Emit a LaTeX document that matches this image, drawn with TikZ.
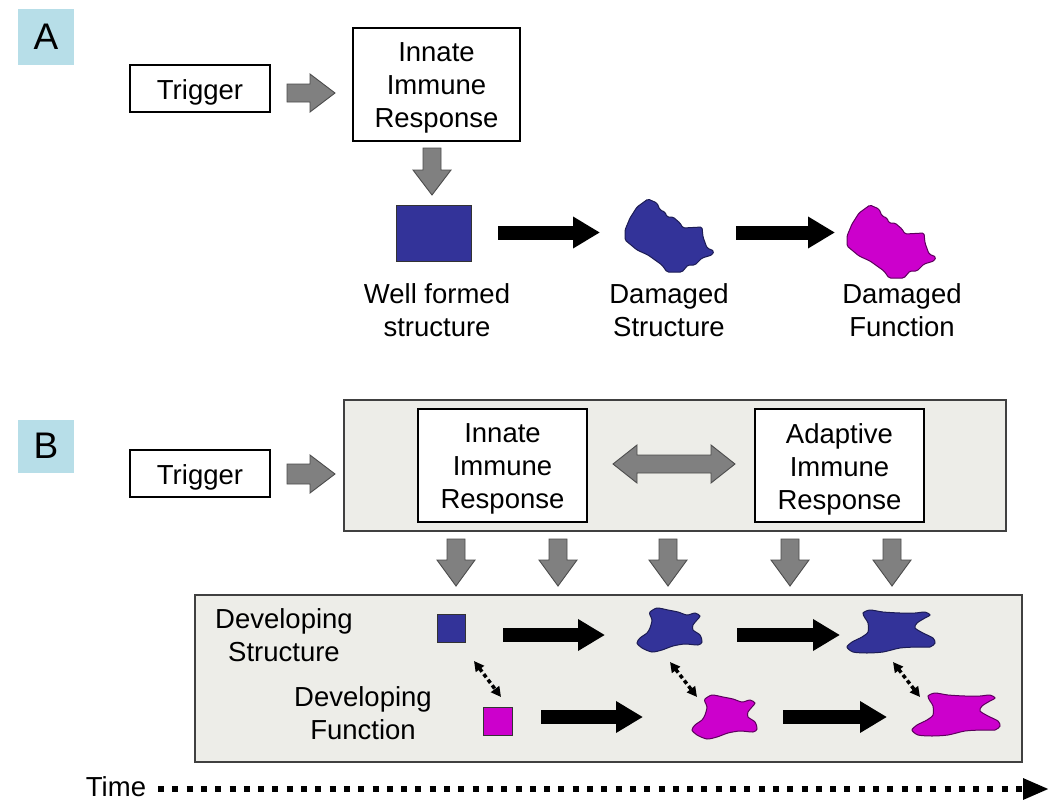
\documentclass[tikz,border=0pt]{standalone}
\usepackage{fontspec}
\setmainfont{Liberation Sans}
\usetikzlibrary{arrows.meta}
\definecolor{lblue}{HTML}{B7DEE8}
\definecolor{panel}{HTML}{EDEDE8}
\definecolor{sblue}{HTML}{333399}
\definecolor{smag}{HTML}{CC00CC}
\definecolor{agray}{HTML}{808080}
\begin{document}
\begin{tikzpicture}[x=1pt,y=-1pt,
 txt/.style={font=\fontsize{27.5}{33}\selectfont, align=center, inner sep=0pt},
 box/.style={draw=black, line width=1.2pt, fill=white, inner sep=0pt},
 boxtxt/.style={txt, yshift=-3.5pt},
 panelbox/.style={draw=black!75, line width=1.5pt, fill=panel, inner sep=0pt},
 lab/.style={fill=lblue, inner sep=0pt, minimum width=56pt, font=\fontsize{37}{40}\selectfont},
 garrow/.style={fill=agray, draw=black!70, line width=0.9pt, line join=miter},
 blk/.style={line width=14pt, -{Triangle[length=27pt,width=30pt]}},
 dotarr/.style={line width=3.5pt, dash pattern=on 4pt off 3pt, {Triangle[length=10pt,width=10pt]}-{Triangle[length=10pt,width=10pt]}},
 timearr/.style={line width=6pt, dash pattern=on 6pt off 8.3pt, -{Triangle[length=26pt,width=20pt]}},
 sblob/.style={fill=sblue, draw=sblue!55!black, line width=1pt},
 mblob/.style={fill=smag, draw=smag!45!black, line width=1pt},
 sq/.style={draw=black!80, line width=1pt, inner sep=0pt},
 pics/arrR/.style n args={4}{code={
   \draw[garrow] (0,-#2) -- ({#1-#4},-#2) -- ({#1-#4},-#3) -- (#1,0) -- ({#1-#4},#3) -- ({#1-#4},#2) -- (0,#2) -- cycle;}},
 pics/arrLR/.style n args={4}{code={
   \draw[garrow] (0,0) -- (#4,-#3) -- (#4,-#2) -- ({#1-#4},-#2) -- ({#1-#4},-#3) -- (#1,0) -- ({#1-#4},#3) -- ({#1-#4},#2) -- (#4,#2) -- (#4,#3) -- cycle;}},
 pics/blobA/.style={code={
   \draw[#1, rounded corners=1.5pt] (12,8) -- (23,0) -- (32,4) -- (35,11) -- (40,13) -- (42,18) -- (48,18) -- (55,24) -- (58,29) -- (77,28) -- (78,38) -- (82,49) -- (89,52) -- (87,56) -- (77,59) -- (70,66) -- (63,66) -- (57,73) -- (42,73) -- (37,66) -- (23,56) -- (12,51) -- (0,41) -- (0,31) -- (5,19) -- cycle;}},
 pics/blobB/.style={code={
   \draw[#1] plot[smooth cycle, tension=0.45] coordinates {(13,4) (20,0) (31,2) (41,4) (50,7) (58,5) (63,8) (60,12) (56,17) (56,22) (63,27) (65,34) (61,37) (48,36) (36,38) (25,42) (15,44) (5,40) (0,35) (3,30) (10,25) (13,20) (15,12) (13,7)};}},
 pics/blobC/.style={code={
   \draw[#1] plot[smooth cycle, tension=0.45] coordinates {(16,3) (23,0) (36,2) (53,3) (68,3) (78,2) (83,5) (78,8) (70,13) (68,18) (76,23) (86,28) (88,33) (83,37) (70,37) (53,38) (36,42) (20,43) (6,42) (0,37) (5,32) (15,27) (21,22) (21,13) (18,8)};}},
]
\useasboundingbox (0,0) rectangle (1050,809);
\fill[white] (0,0) rectangle (1050,809);

% ---------------- Panel A ----------------
\node[lab, minimum height=56pt] (labA) at (46,37) {A};
\node[box, minimum width=140pt, minimum height=47pt] (trigA) at (200,88.5) {};
\node[boxtxt] (trigAt) at (trigA.center) {Trigger};
\node[box, minimum width=167pt, minimum height=113pt] (innA) at (436.5,84.5) {};
\node[boxtxt] (innAt) at (innA.center) {Innate\\Immune\\Response};
\pic (gA1) at (287,93) {arrR={48}{9}{19}{25}};
\pic[rotate=-90] (gA2) at (432,148) {arrR={47}{9}{19}{25}};
\node[sq, fill=sblue, minimum width=75pt, minimum height=56pt] (sqA) at (433.5,233) {};
\pic (bA1) at (625,199) {blobA=sblob};
\pic (bA2) at (847,205) {blobA=mblob};
\coordinate (a1s) at (498,232.5); \coordinate (a1e) at (600,232.5);
\coordinate (a2s) at (736,232.5); \coordinate (a2e) at (835,232.5);
\draw[blk] (a1s) -- (a1e);
\draw[blk] (a2s) -- (a2e);
\node[txt] (wf) at (437,310) {Well formed\\structure};
\node[txt] (ds) at (669,310) {Damaged\\Structure};
\node[txt] (df) at (902,310) {Damaged\\Function};

% ---------------- Panel B ----------------
\node[lab, minimum height=53pt] (labB) at (46,446) {B};
\node[box, minimum width=140pt, minimum height=47pt] (trigB) at (200,473.5) {};
\node[boxtxt] (trigBt) at (trigB.center) {Trigger};
\pic (gB1) at (287,474) {arrR={48}{10}{19}{25}};
\node[panelbox, minimum width=662pt, minimum height=131pt] (panB) at (675,465.5) {};
\node[box, minimum width=169pt, minimum height=113pt] (innB) at (502.5,465.5) {};
\node[boxtxt] (innBt) at (innB.center) {Innate\\Immune\\Response};
\node[box, minimum width=169pt, minimum height=113pt] (adB) at (839.5,465.5) {};
\node[boxtxt] (adBt) at (adB.center) {Adaptive\\Immune\\Response};
\pic (gLR) at (613,464) {arrLR={122}{9}{19}{24}};
\foreach \xx [count=\i] in {456,558,668,790,892}{
  \pic[rotate=-90] (gd\i) at (\xx,539) {arrR={47}{9}{19}{26}};
}
\node[panelbox, minimum width=827pt, minimum height=167pt] (panL) at (608.5,678.5) {};
\node[txt] (devS) at (284,635) {Developing\\Structure};
\node[txt] (devF) at (363,713) {Developing\\Function};
\node[sq, fill=sblue, minimum width=28pt, minimum height=28pt] (sqS) at (451,628) {};
\node[sq, fill=smag, minimum width=29pt, minimum height=28pt] (sqF) at (497.5,721) {};
\pic (bS1) at (637,608) {blobB=sblob};
\pic (bF1) at (692,695) {blobB=mblob};
\pic (bS2) at (847,610) {blobC=sblob};
\pic (bF2) at (912,693) {blobC=mblob};
\coordinate (r1a) at (503,635); \coordinate (r1b) at (605,635);
\coordinate (r1c) at (737,635); \coordinate (r1d) at (840,635);
\coordinate (r2a) at (541,717); \coordinate (r2b) at (643,717);
\coordinate (r2c) at (783,717); \coordinate (r2d) at (887,717);
\draw[blk] (r1a) -- (r1b);
\draw[blk] (r1c) -- (r1d);
\draw[blk] (r2a) -- (r2b);
\draw[blk] (r2c) -- (r2d);
\coordinate (d1a) at (474,661); \coordinate (d1b) at (501,697);
\coordinate (d2a) at (670,662); \coordinate (d2b) at (697,697);
\coordinate (d3a) at (893,662); \coordinate (d3b) at (920,697);
\draw[dotarr] (d1a) -- (d1b);
\draw[dotarr] (d2a) -- (d2b);
\draw[dotarr] (d3a) -- (d3b);

% ---------------- Time ----------------
\node[txt] (time) at (116,787) {Time};
\coordinate (ts) at (158,789); \coordinate (te) at (1049,789);
\draw[timearr] (ts) -- (te);
\end{tikzpicture}
\end{document}
